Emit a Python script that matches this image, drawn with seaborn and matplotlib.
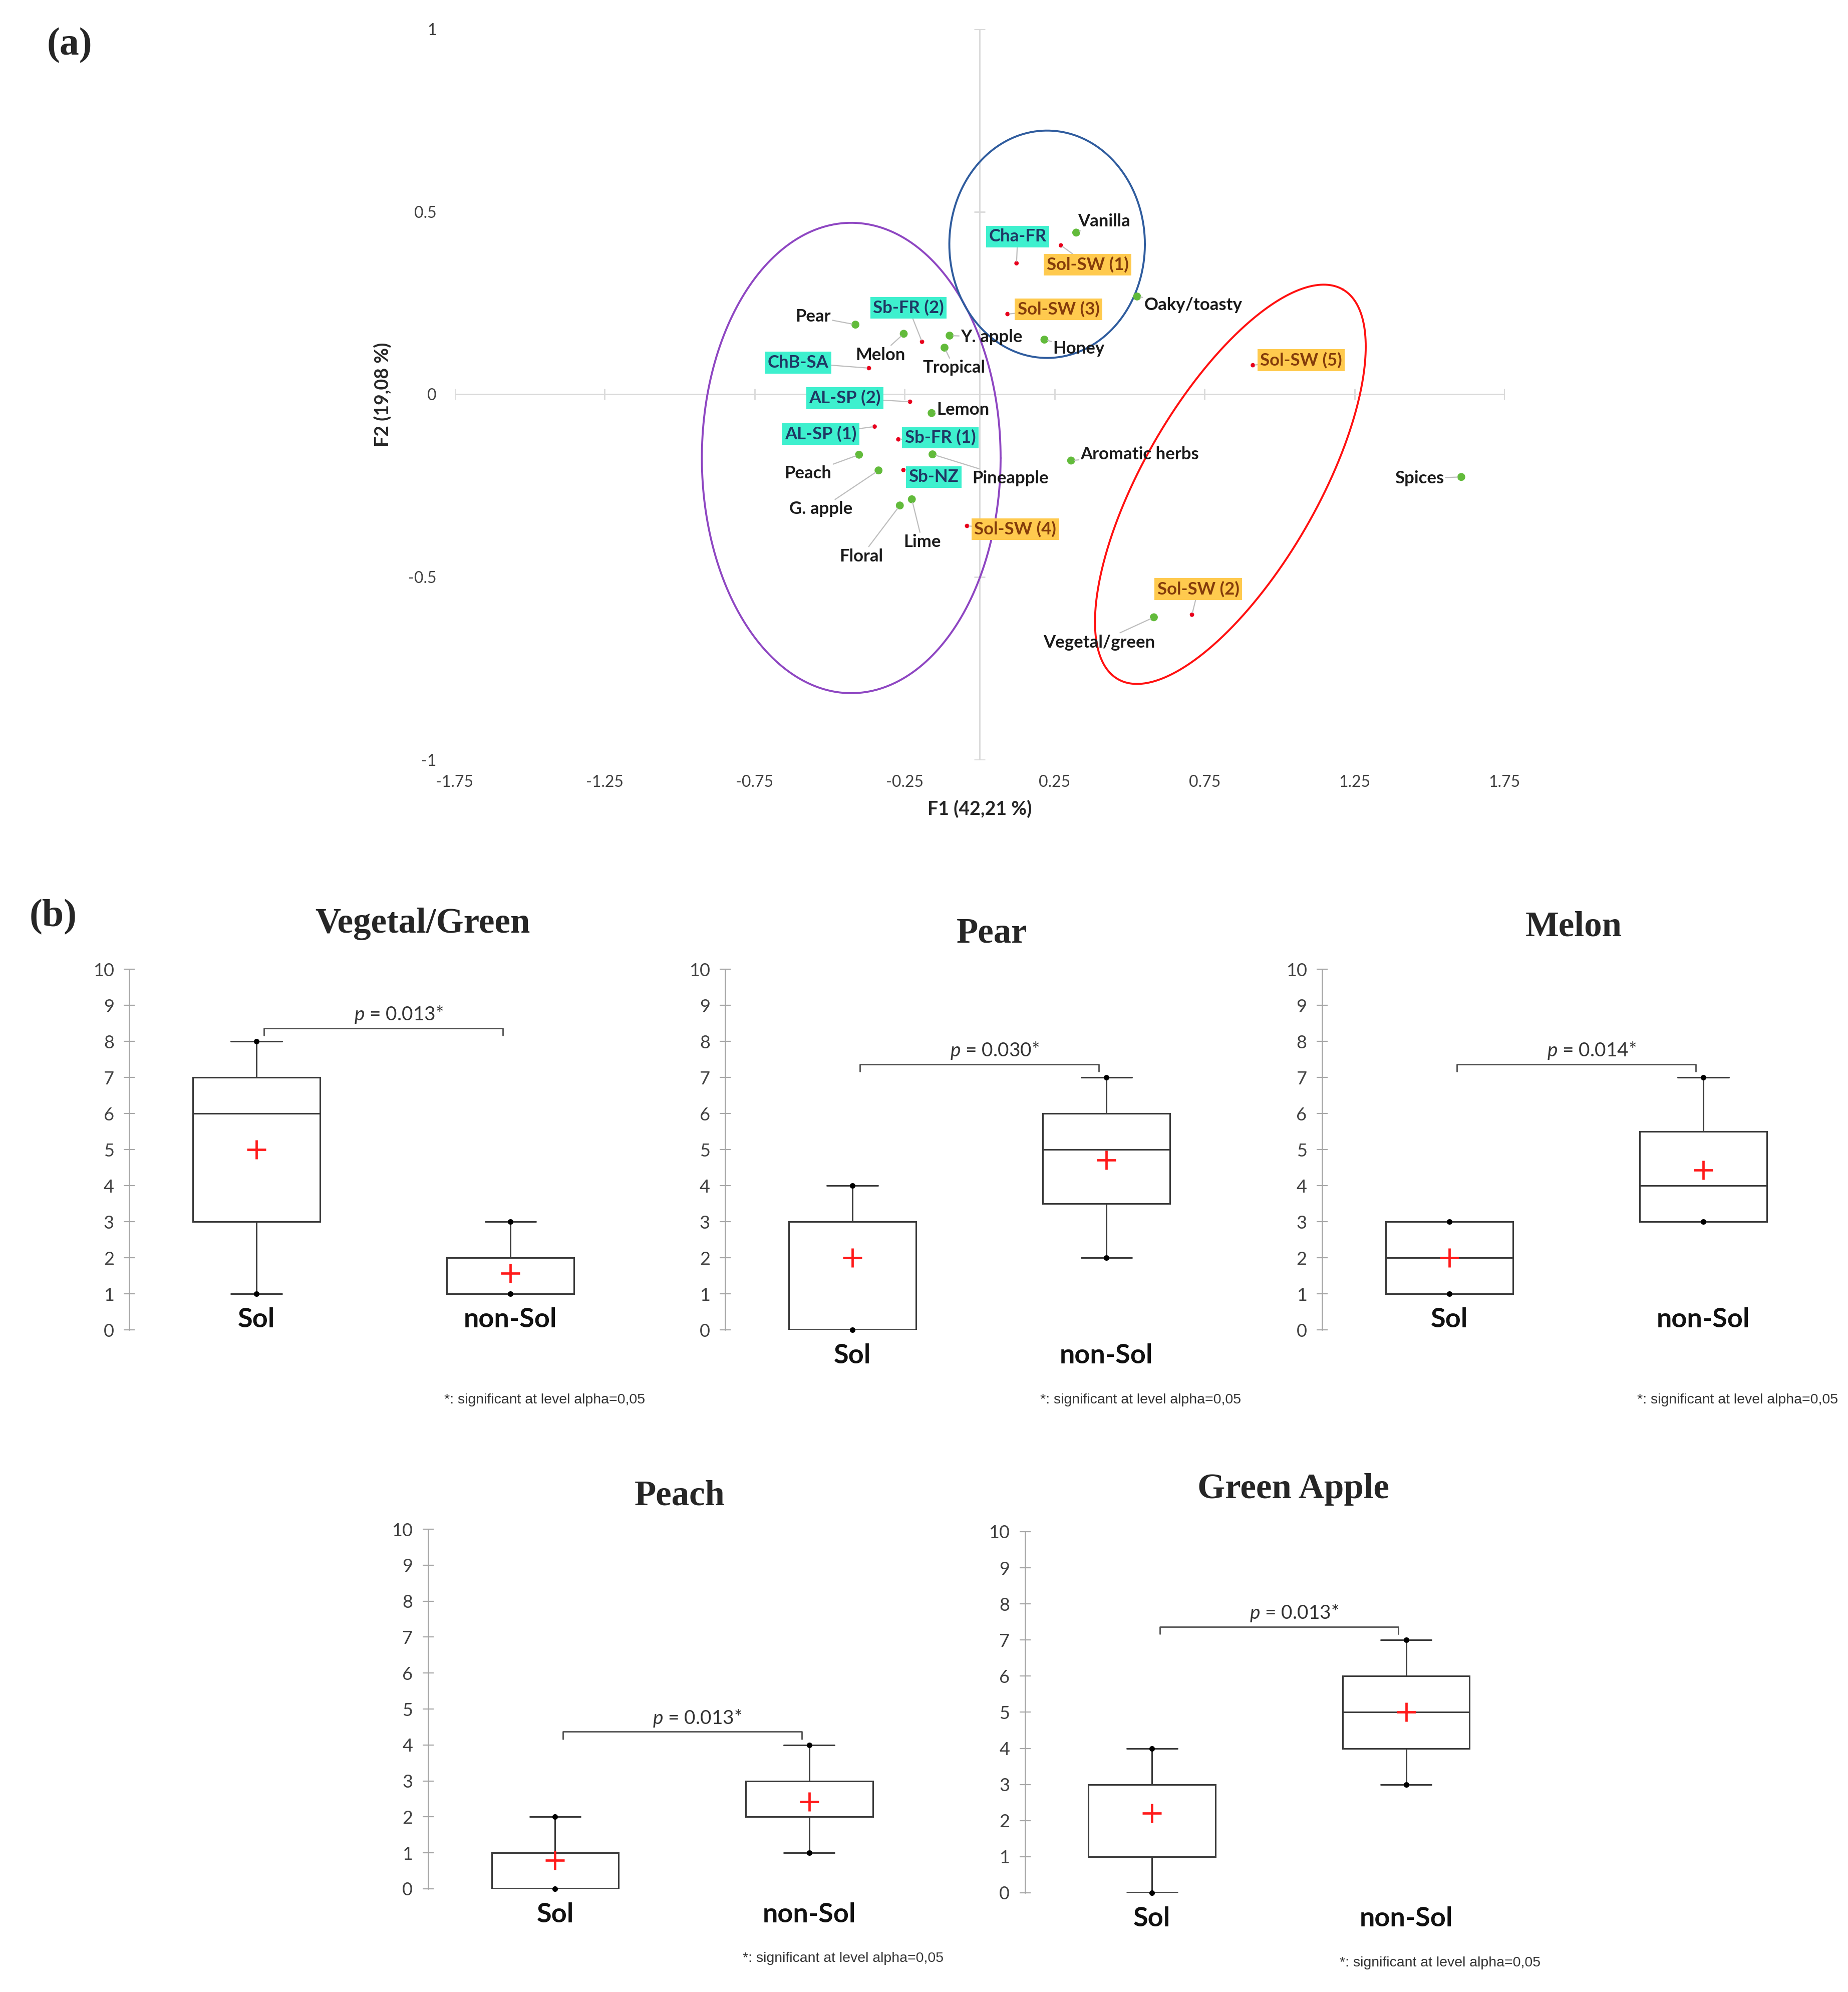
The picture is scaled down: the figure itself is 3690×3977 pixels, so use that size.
import numpy as np
import pandas as pd
import matplotlib
matplotlib.use('Agg')
import matplotlib.pyplot as plt
import seaborn as sns

# ---------------- (a) PCA biplot data ----------------
var_names = ['Vanilla', 'Oaky/toasty', 'Honey', 'Y. apple', 'Tropical', 'Melon', 'Pear',
             'Lemon', 'Pineapple', 'Peach', 'G. apple', 'Floral', 'Lime',
             'Aromatic herbs', 'Spices', 'Vegetal/green']
var_f1 = [0.322, 0.525, 0.216, -0.100, -0.117, -0.253, -0.414, -0.160, -0.157, -0.402,
          -0.337, -0.266, -0.226, 0.305, 1.606, 0.581]
var_f2 = [0.443, 0.268, 0.150, 0.161, 0.128, 0.166, 0.191, -0.051, -0.164, -0.165,
          -0.208, -0.304, -0.287, -0.181, -0.226, -0.610]

obs_names = ['Cha-FR', 'Sol-SW (1)', 'Sol-SW (3)', 'Sol-SW (5)', 'Sol-SW (4)', 'Sol-SW (2)',
             'Sb-FR (2)', 'ChB-SA', 'AL-SP (2)', 'AL-SP (1)', 'Sb-FR (1)', 'Sb-NZ']
obs_f1 = [0.123, 0.271, 0.093, 0.911, -0.042, 0.708, -0.192, -0.369, -0.232, -0.350,
          -0.271, -0.254]
obs_f2 = [0.359, 0.408, 0.220, 0.080, -0.360, -0.603, 0.144, 0.072, -0.020, -0.088,
          -0.123, -0.207]
obs_group = ['non-Sol', 'Sol', 'Sol', 'Sol', 'Sol', 'Sol',
             'non-Sol', 'non-Sol', 'non-Sol', 'non-Sol', 'non-Sol', 'non-Sol']

f1_ticks = [-1.75, -1.25, -0.75, -0.25, 0.25, 0.75, 1.25, 1.75]
f1_tick_labels = ['-1.75', '-1.25', '-0.75', '-0.25', '0.25', '0.75', '1.25', '1.75']
f2_ticks = [-1, -0.5, 0, 0.5, 1]
f2_tick_labels = ['-1', '-0.5', '0', '0.5', '1']
f1_label = 'F1 (42,21 %)'
f2_label = 'F2 (19,08 %)'

# ---------------- (b) box plot data (scores, n=5 Sol / n=7 non-Sol) ----------------
groups = ['Sol', 'non-Sol']
attr_titles = ['Vegetal/Green', 'Pear', 'Melon', 'Peach', 'Green Apple']
sol_vegetal = [1, 3, 6, 7, 8]
non_vegetal = [1, 1, 1, 1, 2, 2, 3]
sol_pear = [0, 0, 3, 3, 4]
non_pear = [2, 3, 4, 5, 6, 6, 7]
sol_melon = [1, 1, 2, 3, 3]
non_melon = [3, 3, 3, 4, 5, 6, 7]
sol_peach = [0, 0, 1, 1, 2]
non_peach = [1, 2, 2, 2, 3, 3, 4]
sol_gapple = [0, 1, 3, 3, 4]
non_gapple = [3, 4, 4, 5, 6, 6, 7]
p_values = ['0.013', '0.030', '0.014', '0.013', '0.013']
score_ticks = list(range(0, 11))
footnote = '*: significant at level alpha=0,05'

# ---------------- style ----------------
sns.set_style('white')
plt.rcParams['font.family'] = ['Lato', 'DejaVu Sans']
plt.rcParams['axes.unicode_minus'] = False
plt.rcParams['mathtext.fontset'] = 'custom'
plt.rcParams['mathtext.it'] = 'Lato:italic'
plt.rcParams['mathtext.rm'] = 'Lato'

GREEN = '#62BB3B'
RED = '#E8001C'
CYAN_BOX = '#3EF0CE'
CYAN_TXT = '#1F3864'
ORANGE_BOX = '#FFCA4E'
ORANGE_TXT = '#843C0B'
LEADER = '#BDBDBD'
SERIF = ['Liberation Serif', 'DejaVu Serif']

W, H = 3691, 3977
fig = plt.figure(figsize=(W / 100, H / 100), dpi=100)
fig.patch.set_facecolor('white')

# ================= (a) =================
ax = fig.add_axes([0.2460, 0.6186, 0.5679, 0.3668])
ax.set_xlim(-1.75, 1.75)
ax.set_ylim(-1, 1)
for s in ax.spines.values():
    s.set_visible(False)

# zero axes with small tick marks
ax.axhline(0, color='#D9D9D9', lw=2, zorder=0)
ax.axvline(0, color='#D9D9D9', lw=2, zorder=0)
ax.plot(f1_ticks, [0] * len(f1_ticks), linestyle='none', marker='|', ms=16,
        mew=2, color='#D9D9D9', zorder=0)
ax.plot([0] * len(f2_ticks), f2_ticks, linestyle='none', marker='_', ms=16,
        mew=2, color='#D9D9D9', zorder=0)

var_df = pd.DataFrame({'F1': var_f1, 'F2': var_f2, 'name': var_names})
obs_df = pd.DataFrame({'F1': obs_f1, 'F2': obs_f2, 'name': obs_names, 'group': obs_group})
sns.scatterplot(data=var_df, x='F1', y='F2', color=GREEN, s=130, edgecolor='none',
                ax=ax, zorder=4, legend=False)
sns.scatterplot(data=obs_df, x='F1', y='F2', color=RED, s=40, edgecolor='none',
                ax=ax, zorder=4, legend=False)

ax.set_xticks(f1_ticks)
ax.set_xticklabels(f1_tick_labels)
ax.set_yticks(f2_ticks)
ax.set_yticklabels(f2_tick_labels)
ax.tick_params(axis='both', length=0, labelsize=23, labelcolor='#404040')
ax.tick_params(axis='x', pad=22)
ax.tick_params(axis='y', pad=26)
ax.set_xlabel(f1_label, fontsize=27, fontweight='bold', labelpad=14)
ax.set_ylabel(f2_label, fontsize=27, fontweight='bold', labelpad=24)

# label placement (layout)
var_label_xy = [(0.415, 0.474), (0.712, 0.244), (0.331, 0.125), (0.040, 0.157),
                (-0.085, 0.073), (-0.331, 0.108), (-0.555, 0.213), (-0.055, -0.042),
                (0.102, -0.230), (-0.572, -0.216), (-0.530, -0.314), (-0.394, -0.443),
                (-0.191, -0.404), (0.534, -0.164), (1.466, -0.230), (0.398, -0.679)]
obs_label_xy = [(0.127, 0.432), (0.360, 0.355), (0.263, 0.233), (1.072, 0.094),
                (0.119, -0.369), (0.729, -0.533), (-0.237, 0.237), (-0.606, 0.087),
                (-0.449, -0.010), (-0.530, -0.108), (-0.131, -0.118), (-0.153, -0.226)]

for name, x, y, (lx, ly) in zip(var_names, var_f1, var_f2, var_label_xy):
    ax.annotate(name, xy=(x, y), xytext=(lx, ly), ha='center', va='center',
                fontsize=25, fontweight='bold', color='#1A1A1A', zorder=5,
                arrowprops=dict(arrowstyle='-', color=LEADER, lw=1.6,
                                shrinkA=0, shrinkB=5))
for name, x, y, g, (lx, ly) in zip(obs_names, obs_f1, obs_f2, obs_group, obs_label_xy):
    if g == 'Sol':
        fc, tc = ORANGE_BOX, ORANGE_TXT
    else:
        fc, tc = CYAN_BOX, CYAN_TXT
    ax.annotate(name, xy=(x, y), xytext=(lx, ly), ha='center', va='center',
                fontsize=25, fontweight='bold', color=tc, zorder=5,
                bbox=dict(boxstyle='square,pad=0.16', fc=fc, ec='none'),
                arrowprops=dict(arrowstyle='-', color=LEADER, lw=1.6,
                                shrinkA=0, shrinkB=3))

# group ellipses (layout annotations)
ellipses = [(-0.428, -0.174, 0.498, 0.784, 0, '#8E46C2'),
            (0.225, 0.411, 0.326, 0.379, 0, '#2F5C9E'),
            (0.836, -0.246, 0.750, 0.290, 60, '#FF1010')]
p0 = ax.transData.transform((0, 0))
p1 = ax.transData.transform((1, 1))
kx, ky = p1 - p0
ratio = kx / ky
t = np.linspace(0, 2 * np.pi, 500)
for cx, cy, a, b, ang, col in ellipses:
    th = np.deg2rad(ang)
    u = a * np.cos(t)
    v = b * np.sin(t)
    ex = cx + u * np.cos(th) - v * np.sin(th)
    ey = cy + (u * np.sin(th) + v * np.cos(th)) * ratio
    ax.plot(ex, ey, color=col, lw=2.8, zorder=3)

fig.text(0.0377, 0.9771, '(a)', fontsize=56, fontweight='bold', family=SERIF,
         ha='center', va='center')
fig.text(0.0287, 0.5396, '(b)', fontsize=56, fontweight='bold', family=SERIF,
         ha='center', va='center')

# ================= (b) =================
panel_data = [(sol_vegetal, non_vegetal), (sol_pear, non_pear), (sol_melon, non_melon),
              (sol_peach, non_peach), (sol_gapple, non_gapple)]
box_rects = [(0.0700, 0.3324, 0.2790, 0.1810), (0.3924, 0.3324, 0.2790, 0.1810),
             (0.7153, 0.3324, 0.2790, 0.1810), (0.2316, 0.0518, 0.2790, 0.1805),
             (0.5545, 0.0498, 0.2790, 0.1813)]
title_pos = [(0.569, 1.126), (0.517, 1.099), (0.488, 1.117), (0.488, 1.092), (0.52, 1.117)]

for (sol, non), rect, title, pv, (tx, ty) in zip(panel_data, box_rects, attr_titles,
                                                  p_values, title_pos):
    bx = fig.add_axes(rect)
    df = pd.DataFrame({'group': ['Sol'] * len(sol) + ['non-Sol'] * len(non),
                       'score': sol + non})
    sns.boxplot(data=df, x='group', y='score', order=groups, ax=bx, width=0.5,
                whis=(0, 100), color='white', linecolor='#3A3A3A', linewidth=2.2,
                showmeans=True, capwidths=0.2,
                meanprops=dict(marker='+', markeredgecolor='#FF1A1A', markersize=28,
                               markeredgewidth=3.4, zorder=6))
    # whisker-end points
    for i, vals in enumerate([sol, non]):
        bx.plot([i, i], [min(vals), max(vals)], linestyle='none', marker='o', ms=7,
                color='black', zorder=7, clip_on=False)
    bx.set_xlim(-0.5, 1.53)
    bx.set_ylim(0, 10)
    bx.set_yticks(score_ticks)
    bx.set_xticks([])
    bx.set_xlabel('')
    bx.set_ylabel('')
    for side in ['top', 'right', 'bottom']:
        bx.spines[side].set_visible(False)
    bx.spines['left'].set_color('#A6A6A6')
    bx.spines['left'].set_linewidth(1.8)
    bx.tick_params(axis='y', direction='inout', length=16, width=1.6, color='#A6A6A6',
                   labelsize=26, labelcolor='#404040', pad=14, left=True)

    allv = sol + non
    ylab = min(allv) - 0.72
    for i, g in enumerate(groups):
        bx.text(i, ylab, g, ha='center', va='center', fontsize=39, fontweight='bold',
                color='#111111', clip_on=False)
    by = max(allv) + 0.37
    bx.plot([0.03, 0.03, 0.97, 0.97], [by - 0.2, by, by, by - 0.2], color='#505050',
            lw=2, clip_on=False, zorder=5)
    bx.text(0.56, by + 0.37, '$p$ = ' + pv + '*', ha='center', va='center',
            fontsize=28, color='#333333', clip_on=False)
    bx.text(tx, ty, title, transform=bx.transAxes, ha='center', va='center',
            fontsize=51, fontweight='bold', family=SERIF)
    bx.text(1.0, -0.194, footnote, transform=bx.transAxes, ha='right', va='center',
            fontsize=20.5, color='#333333', family=['Liberation Sans', 'DejaVu Sans'])

fig.savefig('out.png', dpi=100, facecolor='white')
